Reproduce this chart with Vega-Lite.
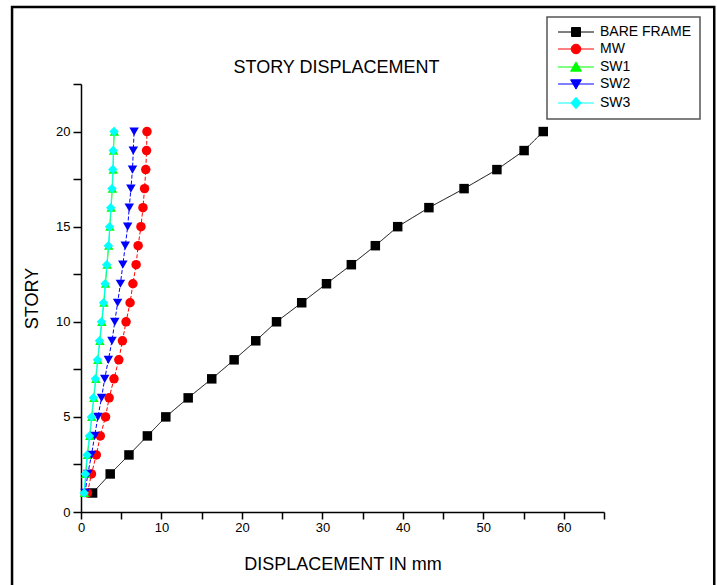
{
  "$schema": "https://vega.github.io/schema/vega-lite/v6.json",
  "width": 523,
  "height": 428,
  "autosize": {"type": "none"},
  "padding": {"left": 81, "top": 84, "right": 113, "bottom": 73},
  "background": "white",
  "title": {
    "text": "STORY DISPLACEMENT",
    "font": "Liberation Sans",
    "fontSize": 18,
    "fontWeight": "normal",
    "color": "black",
    "anchor": "middle",
    "frame": "group",
    "offset": 10,
    "dx": -6,
    "dy": 81
  },
  "config": {
    "view": {"stroke": null},
    "font": "Liberation Sans",
    "axis": {
      "grid": false,
      "labelFont": "Liberation Sans",
      "labelFontSize": 13,
      "labelColor": "black",
      "titleFont": "Liberation Sans",
      "titleFontSize": 18,
      "titleFontWeight": "normal",
      "titleColor": "black",
      "domainColor": "black",
      "domainWidth": 1.5,
      "tickColor": "black",
      "tickWidth": 1.5
    }
  },
  "data": {
    "values": [
      {"series": "BARE FRAME", "story": 1, "disp": 1.44},
      {"series": "BARE FRAME", "story": 2, "disp": 3.63},
      {"series": "BARE FRAME", "story": 3, "disp": 5.96},
      {"series": "BARE FRAME", "story": 4, "disp": 8.25},
      {"series": "BARE FRAME", "story": 5, "disp": 10.54},
      {"series": "BARE FRAME", "story": 6, "disp": 13.32},
      {"series": "BARE FRAME", "story": 7, "disp": 16.25},
      {"series": "BARE FRAME", "story": 8, "disp": 19.03},
      {"series": "BARE FRAME", "story": 9, "disp": 21.72},
      {"series": "BARE FRAME", "story": 10, "disp": 24.3},
      {"series": "BARE FRAME", "story": 11, "disp": 27.43},
      {"series": "BARE FRAME", "story": 12, "disp": 30.51},
      {"series": "BARE FRAME", "story": 13, "disp": 33.6},
      {"series": "BARE FRAME", "story": 14, "disp": 36.58},
      {"series": "BARE FRAME", "story": 15, "disp": 39.36},
      {"series": "BARE FRAME", "story": 16, "disp": 43.24},
      {"series": "BARE FRAME", "story": 17, "disp": 47.61},
      {"series": "BARE FRAME", "story": 18, "disp": 51.69},
      {"series": "BARE FRAME", "story": 19, "disp": 55.07},
      {"series": "BARE FRAME", "story": 20, "disp": 57.45},
      {"series": "MW", "story": 1, "disp": 0.8},
      {"series": "MW", "story": 2, "disp": 1.3},
      {"series": "MW", "story": 3, "disp": 1.9},
      {"series": "MW", "story": 4, "disp": 2.4},
      {"series": "MW", "story": 5, "disp": 3.05},
      {"series": "MW", "story": 6, "disp": 3.5},
      {"series": "MW", "story": 7, "disp": 4.1},
      {"series": "MW", "story": 8, "disp": 4.7},
      {"series": "MW", "story": 9, "disp": 5.15},
      {"series": "MW", "story": 10, "disp": 5.6},
      {"series": "MW", "story": 11, "disp": 6.1},
      {"series": "MW", "story": 12, "disp": 6.45},
      {"series": "MW", "story": 13, "disp": 6.85},
      {"series": "MW", "story": 14, "disp": 7.1},
      {"series": "MW", "story": 15, "disp": 7.45},
      {"series": "MW", "story": 16, "disp": 7.7},
      {"series": "MW", "story": 17, "disp": 7.9},
      {"series": "MW", "story": 18, "disp": 8.05},
      {"series": "MW", "story": 19, "disp": 8.15},
      {"series": "MW", "story": 20, "disp": 8.2},
      {"series": "SW1", "story": 1, "disp": 0.45},
      {"series": "SW1", "story": 2, "disp": 0.6},
      {"series": "SW1", "story": 3, "disp": 0.8},
      {"series": "SW1", "story": 4, "disp": 1.1},
      {"series": "SW1", "story": 5, "disp": 1.35},
      {"series": "SW1", "story": 6, "disp": 1.6},
      {"series": "SW1", "story": 7, "disp": 1.85},
      {"series": "SW1", "story": 8, "disp": 2.1},
      {"series": "SW1", "story": 9, "disp": 2.35},
      {"series": "SW1", "story": 10, "disp": 2.6},
      {"series": "SW1", "story": 11, "disp": 2.85},
      {"series": "SW1", "story": 12, "disp": 3.05},
      {"series": "SW1", "story": 13, "disp": 3.25},
      {"series": "SW1", "story": 14, "disp": 3.45},
      {"series": "SW1", "story": 15, "disp": 3.6},
      {"series": "SW1", "story": 16, "disp": 3.75},
      {"series": "SW1", "story": 17, "disp": 3.9},
      {"series": "SW1", "story": 18, "disp": 4.0},
      {"series": "SW1", "story": 19, "disp": 4.05},
      {"series": "SW1", "story": 20, "disp": 4.15},
      {"series": "SW2", "story": 1, "disp": 0.5},
      {"series": "SW2", "story": 2, "disp": 0.85},
      {"series": "SW2", "story": 3, "disp": 1.3},
      {"series": "SW2", "story": 4, "disp": 1.7},
      {"series": "SW2", "story": 5, "disp": 2.1},
      {"series": "SW2", "story": 6, "disp": 2.55},
      {"series": "SW2", "story": 7, "disp": 2.95},
      {"series": "SW2", "story": 8, "disp": 3.4},
      {"series": "SW2", "story": 9, "disp": 3.85},
      {"series": "SW2", "story": 10, "disp": 4.2},
      {"series": "SW2", "story": 11, "disp": 4.55},
      {"series": "SW2", "story": 12, "disp": 4.9},
      {"series": "SW2", "story": 13, "disp": 5.2},
      {"series": "SW2", "story": 14, "disp": 5.5},
      {"series": "SW2", "story": 15, "disp": 5.8},
      {"series": "SW2", "story": 16, "disp": 6.0},
      {"series": "SW2", "story": 17, "disp": 6.2},
      {"series": "SW2", "story": 18, "disp": 6.4},
      {"series": "SW2", "story": 19, "disp": 6.5},
      {"series": "SW2", "story": 20, "disp": 6.6},
      {"series": "SW3", "story": 1, "disp": 0.4},
      {"series": "SW3", "story": 2, "disp": 0.55},
      {"series": "SW3", "story": 3, "disp": 0.75},
      {"series": "SW3", "story": 4, "disp": 1.05},
      {"series": "SW3", "story": 5, "disp": 1.3},
      {"series": "SW3", "story": 6, "disp": 1.55},
      {"series": "SW3", "story": 7, "disp": 1.8},
      {"series": "SW3", "story": 8, "disp": 2.05},
      {"series": "SW3", "story": 9, "disp": 2.3},
      {"series": "SW3", "story": 10, "disp": 2.55},
      {"series": "SW3", "story": 11, "disp": 2.8},
      {"series": "SW3", "story": 12, "disp": 3.0},
      {"series": "SW3", "story": 13, "disp": 3.2},
      {"series": "SW3", "story": 14, "disp": 3.4},
      {"series": "SW3", "story": 15, "disp": 3.55},
      {"series": "SW3", "story": 16, "disp": 3.7},
      {"series": "SW3", "story": 17, "disp": 3.85},
      {"series": "SW3", "story": 18, "disp": 3.95},
      {"series": "SW3", "story": 19, "disp": 4.0},
      {"series": "SW3", "story": 20, "disp": 4.1}
    ]
  },
  "layer": [
    {
      "data": {"values": [{"frame": "border"}]},
      "mark": {"type": "rect", "fill": "white", "fillOpacity": 0, "stroke": "black", "strokeWidth": 2.5},
      "encoding": {
        "x": {"datum": -8.57, "type": "quantitative", "scale": {"domain": [0, 65], "nice": false, "zero": false}, "title": "DISPLACEMENT IN mm"},
        "x2": {"datum": 78.7},
        "y": {"datum": 26.55, "type": "quantitative", "scale": {"domain": [0, 22.5], "nice": false, "zero": false}, "title": "STORY"},
        "y2": {"datum": -5}
      }
    },
    {
      "mark": {"type": "line", "strokeWidth": 1, "clip": false},
      "encoding": {
        "x": {"field": "disp", "type": "quantitative", "scale": {"domain": [0, 65], "nice": false, "zero": false}, "title": "DISPLACEMENT IN mm",
          "axis": {"values": [0, 5, 10, 15, 20, 25, 30, 35, 40, 45, 50, 55, 60, 65], "labelExpr": "datum.value % 10 === 0 && datum.value <= 60 ? datum.label : ''", "tickSize": 7, "labelPadding": 2, "titlePadding": 21, "labelFlush": false, "labelOverlap": false}},
        "y": {"field": "story", "type": "quantitative", "scale": {"domain": [0, 22.5], "nice": false, "zero": false}, "title": "STORY",
          "axis": {"values": [0, 2.5, 5, 7.5, 10, 12.5, 15, 17.5, 20, 22.5], "labelExpr": "datum.value % 5 === 0 ? datum.label : ''", "tickSize": 8, "labelPadding": 3, "titlePadding": 14, "labelFlush": false, "labelOverlap": false}},
        "order": {"field": "story", "type": "quantitative"},
        "color": {"field": "series", "type": "nominal",
          "scale": {"domain": ["BARE FRAME", "MW", "SW1", "SW2", "SW3"], "range": ["#000000", "#FF0000", "#00FF00", "#0000FF", "#00FFFF"]},
          "legend": {
            "title": null,
            "orient": "none",
            "legendX": 466,
            "legendY": -67,
            "direction": "vertical",
            "padding": 8,
            "strokeColor": "#555555",
            "fillColor": "white",
            "labelFont": "Liberation Sans",
            "labelFontSize": 14,
            "labelColor": "black",
            "labelOffset": 17,
            "symbolSize": 144,
            "symbolOffset": 14,
            "rowPadding": 3,
            "encode": {
              "legend": {"update": {"strokeWidth": {"value": 1.5}}},
              "symbols": {
                "update": {
                  "shape": {"signal": "datum.value === 'BARE FRAME' ? 'M-3,0H3M-0.75,-0.75H0.75V0.75H-0.75Z' : datum.value === 'MW' ? 'M-3,0H3M0.8,0A0.8,0.8,0,1,1,-0.8,0A0.8,0.8,0,1,1,0.8,0Z' : datum.value === 'SW1' ? 'M-3,0H3M0,-0.85L0.9,0.7H-0.9Z' : datum.value === 'SW2' ? 'M-3,0H3M0,0.85L0.9,-0.7H-0.9Z' : 'M-3,0H3M0,-0.95L0.85,0L0,0.95L-0.85,0Z'"},
                  "fill": {"scale": "color", "field": "value"},
                  "stroke": {"scale": "color", "field": "value"},
                  "strokeWidth": {"value": 1},
                  "opacity": {"value": 1}
                }
              }
            }
          }
        },
        "strokeDash": {"field": "series", "type": "nominal",
          "scale": {"domain": ["SW3", "SW2", "SW1", "MW", "BARE FRAME"], "range": [[1, 0], [4, 2], [1, 0], [4, 2], [1, 0]]},
          "legend": null}
      }
    },
    {
      "mark": {"type": "point", "filled": true, "opacity": 1, "size": 90, "clip": false},
      "encoding": {
        "x": {"field": "disp", "type": "quantitative", "title": "DISPLACEMENT IN mm"},
        "y": {"field": "story", "type": "quantitative", "title": "STORY"},
        "color": {"field": "series", "type": "nominal"},
        "shape": {"field": "series", "type": "nominal",
          "scale": {"domain": ["SW3", "SW2", "SW1", "MW", "BARE FRAME"], "range": ["diamond", "triangle-down", "triangle-up", "circle", "square"]},
          "legend": null}
      }
    }
  ]
}
